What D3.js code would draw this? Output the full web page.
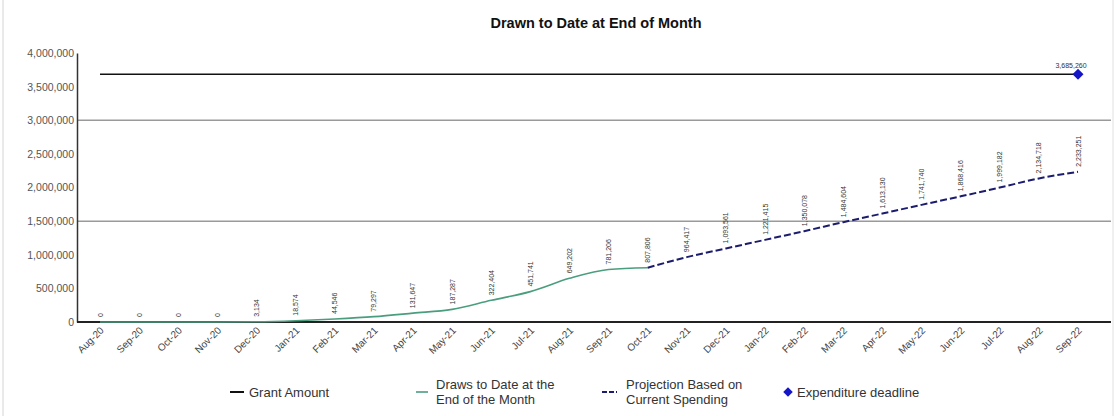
<!DOCTYPE html>
<html>
<head>
<meta charset="utf-8">
<script src="https://cdn.jsdelivr.net/npm/d3@7"></script>
<style>
  html, body { margin: 0; padding: 0; background: #fff; }
  svg { display: block; font-family: "Liberation Sans", Arial, sans-serif; }
</style>
</head>
<body>
<svg id="chart" width="1116" height="416"></svg>
<script>
// Month labels along the x axis
const months = ["Aug-20","Sep-20","Oct-20","Nov-20","Dec-20","Jan-21","Feb-21","Mar-21","Apr-21",
  "May-21","Jun-21","Jul-21","Aug-21","Sep-21","Oct-21","Nov-21","Dec-21","Jan-22","Feb-22",
  "Mar-22","Apr-22","May-22","Jun-22","Jul-22","Aug-22","Sep-22"];

// Cumulative draws (actuals), Aug-20 .. Oct-21
const drawMonths = months.slice(0, 15);
const drawValues = [0, 0, 0, 0, 3134, 18574, 44546, 79297, 131647, 187287, 322404, 451741, 649202, 781206, 807806];

// Projected draws, Oct-21 .. Sep-22
const projMonths = months.slice(14);
const projValues = [807806, 964417, 1093561, 1221415, 1350078, 1484604, 1613130, 1741740, 1868416, 1999182, 2134718, 2233251];

// Grant amount and expenditure deadline
const grantAmount = 3685260;
const deadlineMonth = "Sep-22";

// Y axis tick labels and grid lines
const yTicks = [0, 500000, 1000000, 1500000, 2000000, 2500000, 3000000, 3500000, 4000000];
const yGrid = [1500000, 3000000];

const legendItems = ["Grant Amount", "Draws to Date at the|End of the Month", "Projection Based on|Current Spending", "Expenditure deadline"];

const svg = d3.select("#chart");
const plotLeft = 77, plotRight = 1111, plotTop = 53, plotBottom = 322;

const x = d3.scalePoint().domain(months).range([100, 1078]);
const y = d3.scaleLinear().domain([0, 4000000]).range([plotBottom, plotTop]);
const fmt = d3.format(",");

// outer frame edges
svg.append("line").attr("x1", 3).attr("x2", 3).attr("y1", 0).attr("y2", 416).attr("stroke", "#d4d4d4");
svg.append("line").attr("x1", 1113).attr("x2", 1113).attr("y1", 0).attr("y2", 416).attr("stroke", "#e0e0e0");

// title
svg.append("text").attr("x", 596).attr("y", 28).attr("text-anchor", "middle")
  .attr("font-size", 14.5).attr("font-weight", "bold").attr("fill", "#111")
  .text("Drawn to Date at End of Month");

// grid
svg.append("g").selectAll("line").data(yGrid).join("line")
  .attr("x1", plotLeft).attr("x2", plotRight).attr("y1", d => y(d)).attr("y2", d => y(d))
  .attr("stroke", "#9a9a9a").attr("stroke-width", 1.5);

// y axis
const yAxis = svg.append("g").attr("transform", `translate(${plotLeft},0)`)
  .call(d3.axisLeft(y).tickValues(yTicks).tickFormat(fmt).tickSize(0).tickPadding(3));
yAxis.select(".domain").attr("stroke", "#333").attr("stroke-width", 1.5);
yAxis.selectAll("text").attr("font-size", 10.5).attr("fill", "#555")
  .attr("font-family", "Liberation Sans, Arial, sans-serif");

// x axis
const xAxis = svg.append("g").attr("transform", `translate(0,${plotBottom})`)
  .call(d3.axisBottom(x).tickSize(0).tickPadding(0));
xAxis.select(".domain").remove();
svg.append("line").attr("x1", plotLeft).attr("x2", plotRight).attr("y1", plotBottom).attr("y2", plotBottom)
  .attr("stroke", "#222").attr("stroke-width", 2);
xAxis.selectAll("text")
  .attr("font-size", 10).attr("fill", "#444")
  .attr("font-family", "Liberation Sans, Arial, sans-serif")
  .attr("text-anchor", "end")
  .attr("dy", 0)
  .attr("transform", "translate(4,9) rotate(-45)");

// grant amount line
svg.append("line").attr("x1", x(months[0])).attr("x2", x(deadlineMonth))
  .attr("y1", y(grantAmount)).attr("y2", y(grantAmount))
  .attr("stroke", "#111").attr("stroke-width", 1.5);

// draws line
const line = d3.line().x(d => x(d[0])).y(d => y(d[1])).curve(d3.curveMonotoneX);
svg.append("path").datum(d3.zip(drawMonths, drawValues)).attr("d", line)
  .attr("fill", "none").attr("stroke", "#4a9e7e").attr("stroke-width", 1.6);

// projection line
svg.append("path").datum(d3.zip(projMonths, projValues)).attr("d", line)
  .attr("fill", "none").attr("stroke", "#1c1c6e").attr("stroke-width", 2)
  .attr("stroke-dasharray", "7,3");

// data labels (rotated)
const labelData = d3.zip(drawMonths, drawValues).concat(d3.zip(projMonths, projValues).slice(1));
svg.append("g").selectAll("text").data(labelData).join("text")
  .attr("transform", d => `translate(${x(d[0]) + 2.5},${y(d[1]) - 5}) rotate(-90)`)
  .attr("font-size", 7).attr("fill", "#333")
  .text(d => fmt(d[1]));

// expenditure deadline marker (square turned 45 degrees)
const diamond = d3.symbol().type(d3.symbolSquare).size(60);
svg.append("path").attr("d", diamond)
  .attr("transform", `translate(${x(deadlineMonth)},${y(grantAmount)}) rotate(45)`)
  .attr("fill", "#1414c8");
svg.append("text").attr("x", x(deadlineMonth) - 7).attr("y", y(grantAmount) - 6).attr("text-anchor", "middle")
  .attr("font-size", 7).attr("fill", "#333").text(fmt(grantAmount));

// legend
const lg = svg.append("g").attr("font-size", 13).attr("fill", "#333");
const ly = 392;
lg.append("line").attr("x1", 230).attr("x2", 244).attr("y1", ly).attr("y2", ly).attr("stroke", "#111").attr("stroke-width", 2);
lg.append("text").attr("x", 249).attr("y", ly + 4.5).text(legendItems[0]);

lg.append("line").attr("x1", 416).attr("x2", 428).attr("y1", ly).attr("y2", ly).attr("stroke", "#4a9e7e").attr("stroke-width", 1.6);
const t1 = legendItems[1].split("|");
lg.append("text").attr("x", 436).attr("y", ly - 3).text(t1[0]);
lg.append("text").attr("x", 436).attr("y", ly + 12).text(t1[1]);

lg.append("line").attr("x1", 602).attr("x2", 617).attr("y1", ly).attr("y2", ly).attr("stroke", "#1c1c6e").attr("stroke-width", 2).attr("stroke-dasharray", "5,2");
const t2 = legendItems[2].split("|");
lg.append("text").attr("x", 626).attr("y", ly - 3).text(t2[0]);
lg.append("text").attr("x", 626).attr("y", ly + 12).text(t2[1]);

lg.append("path").attr("d", d3.symbol().type(d3.symbolSquare).size(45))
  .attr("transform", `translate(788,${ly}) rotate(45)`).attr("fill", "#1414c8");
lg.append("text").attr("x", 797).attr("y", ly + 4.5).text(legendItems[3]);
</script>
</body>
</html>
